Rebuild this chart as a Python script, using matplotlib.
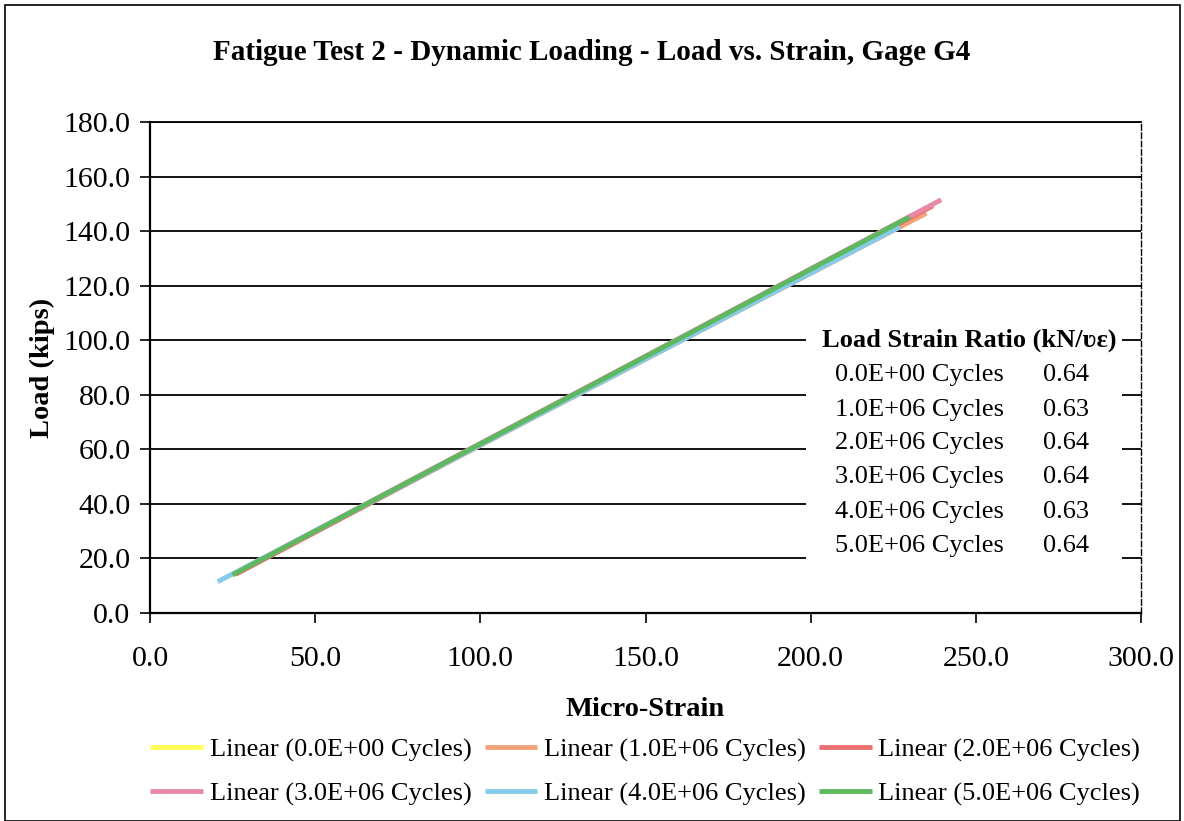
import matplotlib.pyplot as plt
from matplotlib.patches import Rectangle

plt.rcParams['font.family'] = ['Liberation Serif', 'DejaVu Serif']

# trend lines per fatigue stage: strain range and fitted load/strain ratio
cycles = ['0.0E+00', '1.0E+06', '2.0E+06', '3.0E+06', '4.0E+06', '5.0E+06']
ratios = [0.64, 0.63, 0.64, 0.64, 0.63, 0.64]
intercepts = [-2.2, -1.5, -2.4, -1.8, -1.4, -2.0]
strain_start = [25.0, 27.0, 26.0, 27.0, 20.5, 25.0]
strain_end = [231.0, 235.0, 237.0, 239.5, 227.0, 230.0]
colors = ['#FFFF55', '#F4A27A', '#EE7070', '#E889A6', '#86CCEA', '#5DB85F']

fig = plt.figure(figsize=(11.84, 8.21), dpi=100)
ax = fig.add_axes([0.1267, 0.2533, 0.8370, 0.5981])

for c, r, b, x0, x1, col in zip(cycles, ratios, intercepts, strain_start, strain_end, colors):
    xs = [x0, x1]
    ys = [r * x + b for x in xs]
    ax.plot(xs, ys, color=col, lw=3.5, solid_capstyle='butt',
            label='Linear (%s Cycles)' % c, zorder=3)

ax.set_xlim(0, 300)
ax.set_ylim(0, 180)
ax.set_xticks(range(0, 301, 50))
ax.set_yticks(range(0, 181, 20))
ax.set_xticklabels(['%.1f' % v for v in range(0, 301, 50)])
ax.set_yticklabels(['%.1f' % v for v in range(0, 181, 20)])
ax.tick_params(labelsize=21.5, direction='out', length=7, width=1.2, pad=7)
ax.tick_params(axis='x', pad=17)
ax.grid(axis='y', color='black', lw=1.3)
ax.set_axisbelow(True)

for s in ['left', 'bottom']:
    ax.spines[s].set_linewidth(1.6)
ax.spines['top'].set_linewidth(1.3)
ax.spines['right'].set_linestyle((0, (4, 2)))
ax.spines['right'].set_linewidth(1.0)

ax.set_xlabel('Micro-Strain', fontsize=20.5, fontweight='bold', labelpad=18)
ax.set_ylabel('Load (kips)', fontsize=20.5, fontweight='bold', labelpad=6)
fig.suptitle('Fatigue Test 2 - Dynamic Loading - Load vs. Strain, Gage G4',
             fontsize=21, fontweight='bold', y=0.952)

# ratio table in the lower right of the plot area
ax.add_patch(Rectangle((0.662, 0.098), 0.319, 0.489, transform=ax.transAxes,
                       facecolor='white', edgecolor='none', zorder=1))
ax.text(0.827, 0.556, 'Load Strain Ratio (kN/\u028B\u03B5)', transform=ax.transAxes,
        ha='center', va='center', fontsize=19, fontweight='bold', zorder=4)
row_y = [0.485, 0.413, 0.346, 0.277, 0.206, 0.136]
for c, r, yy in zip(cycles, ratios, row_y):
    ax.text(0.691, yy, '%s Cycles' % c, transform=ax.transAxes,
            ha='left', va='center', fontsize=19, zorder=4)
    ax.text(0.901, yy, '%.2f' % r, transform=ax.transAxes,
            ha='left', va='center', fontsize=19, zorder=4)

# legend filled row by row
order = [0, 3, 1, 4, 2, 5]
h, l = ax.get_legend_handles_labels()
fig.legend([h[i] for i in order], [l[i] for i in order], loc='upper center',
           bbox_to_anchor=(0.545, 0.13), ncol=3, frameon=False, fontsize=19,
           handlelength=2.0, handletextpad=0.25, columnspacing=0.5,
           labelspacing=0.75)

fig.add_artist(Rectangle((0.004, 0.0), 0.993, 0.994, transform=fig.transFigure,
                         facecolor='none', edgecolor='black', lw=1.2))

fig.savefig('out.png', dpi=100)
